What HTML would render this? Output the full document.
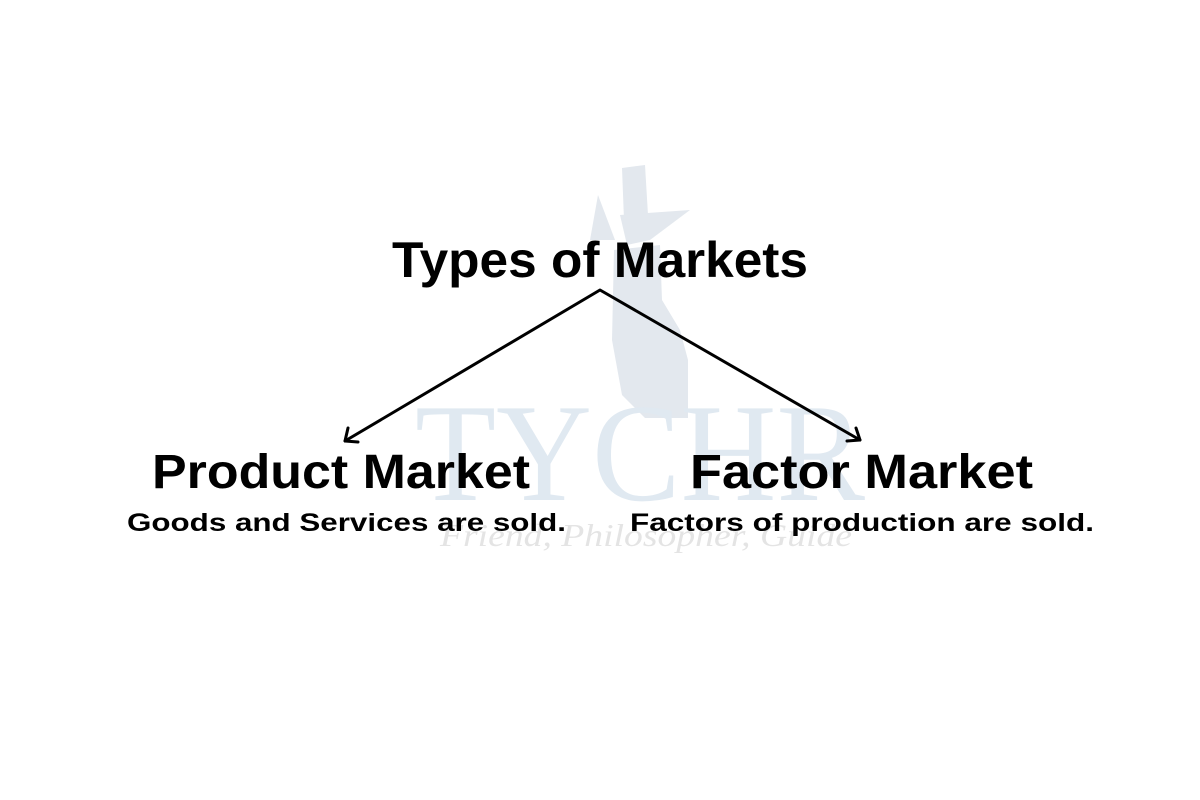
<!DOCTYPE html>
<html><head><style>html,body{margin:0;padding:0;background:#fff}svg{display:block}</style></head>
<body>
<svg width="1200" height="800" viewBox="0 0 1200 800" xmlns="http://www.w3.org/2000/svg">
<rect width="1200" height="800" fill="#fff"/>
<g fill="#e3e8ee">
<polygon points="622,168 645,165 648,215 624,220"/>
<polygon points="598,195 615,240 590,240"/>
<polygon points="620,215 690,210 650,240 627,245"/>
<path d="M614,250 L660,245 L662,300 L680,330 L688,360 L688,418 L645,418 L622,395 L612,340 Z"/>
</g>
<text x="415" y="500" font-family="Liberation Serif, serif" font-size="140" fill="#e0e9f1" textLength="450" lengthAdjust="spacingAndGlyphs">TYCHR</text>
<text x="440" y="546" font-family="Liberation Serif, serif" font-style="italic" font-size="32" fill="#e4e4e4" textLength="412" lengthAdjust="spacingAndGlyphs">Friend, Philosopher, Guide</text>
<g font-family="Liberation Sans, sans-serif" font-weight="bold" fill="#000">
<text x="392" y="277" font-size="50" textLength="416" lengthAdjust="spacingAndGlyphs">Types of Markets</text>
<text x="152" y="488" font-size="48" textLength="378" lengthAdjust="spacingAndGlyphs">Product Market</text>
<text x="690" y="488" font-size="48" textLength="343" lengthAdjust="spacingAndGlyphs">Factor Market</text>
<text x="127" y="531" font-size="25" textLength="439" lengthAdjust="spacingAndGlyphs">Goods and Services are sold.</text>
<text x="630" y="531" font-size="25" textLength="464" lengthAdjust="spacingAndGlyphs">Factors of production are sold.</text>
</g>
<g stroke="#000" stroke-width="3" fill="none" stroke-linecap="round" stroke-linejoin="round">
<polyline points="345,441 600,290 860,440"/>
<polyline points="348,428 345,441 358,442"/>
<polyline points="847,441 860,440 856,428"/>
</g>
</svg>
</body></html>
